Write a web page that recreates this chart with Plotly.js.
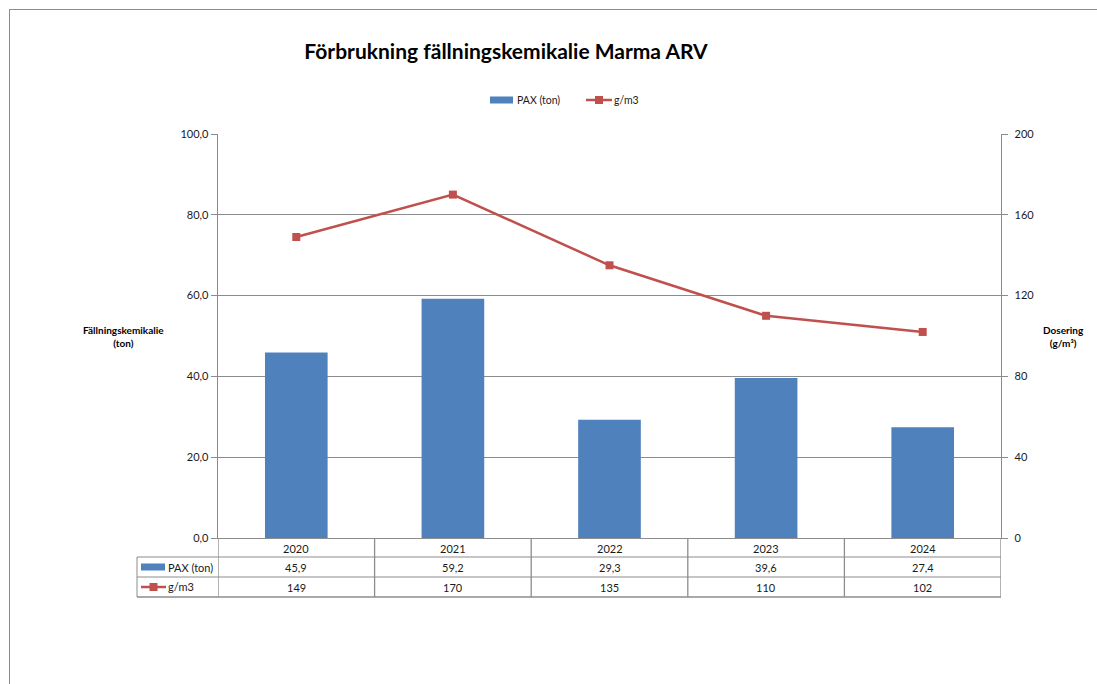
<!DOCTYPE html>
<html>
<head>
<meta charset="utf-8">
<script src="https://cdn.plot.ly/plotly-3.0.1.min.js"></script>
<style>
html,body{margin:0;padding:0;background:#fff;}
#chart{width:1097px;height:684px;}
#frame{position:absolute;left:9px;top:9px;width:1200px;height:800px;border-left:1px solid #8c8c8c;border-top:1px solid #8c8c8c;pointer-events:none;}
</style>
</head>
<body>
<div id="chart"></div>
<div id="frame"></div>
<script>
const years = ['2020', '2021', '2022', '2023', '2024'];
const paxTon = [45.9, 59.2, 29.3, 39.6, 27.4];
const gPerM3 = [149, 170, 135, 110, 102];
const seriesNames = ['PAX (ton)', 'g/m3'];
const titleText = 'Förbrukning fällningskemikalie Marma ARV';
const leftTitle = 'Fällningskemikalie<br>(ton)';
const rightTitle = 'Dosering<br>(g/m³)';

const BLUE = '#4F81BD', RED = '#C0504D', GRID = '#8c8c8c', TXT = '#1a1a1a';
const FONT = 'Lato, "Open Sans", sans-serif';

const W = 1097, H = 684;
const L = 218, R = 1001, T = 134, B = 538;
const plotH = B - T;
const py = p => (B - p) / plotH;            // pixel y -> paper y
const px = p => (p - L) / (R - L);          // pixel x -> paper x

const fmt1 = v => v.toFixed(1).replace('.', ',');

const rowY = [538, 557, 577, 597];
const shapes = [];
const annotations = [];
// horizontal table lines
shapes.push({type:'line', xref:'paper', yref:'paper', x0:px(137), x1:1, y0:py(rowY[1]), y1:py(rowY[1]), line:{color:GRID,width:1}});
shapes.push({type:'line', xref:'paper', yref:'paper', x0:px(137), x1:1, y0:py(rowY[2]), y1:py(rowY[2]), line:{color:GRID,width:1}});
shapes.push({type:'line', xref:'paper', yref:'paper', x0:px(137), x1:1, y0:py(rowY[3]), y1:py(rowY[3]), line:{color:GRID,width:1.5}});
// left vertical line of label column
shapes.push({type:'line', xref:'paper', yref:'paper', x0:px(137), x1:px(137), y0:py(rowY[1]), y1:py(rowY[3]), line:{color:GRID,width:1}});
// vertical separators at category boundaries
for (let i = 0; i <= years.length; i++) {
  shapes.push({type:'line', xref:'x', yref:'paper', x0:i-0.5, x1:i-0.5, y0:py(rowY[0]), y1:py(rowY[3]), line:{color:GRID,width:1.3}});
}
// legend keys in table
function barKey(x0, x1, yc) {
  shapes.push({type:'rect', xref:'paper', yref:'paper', x0:px(x0), x1:px(x1), y0:py(yc+3.5), y1:py(yc-3.5), fillcolor:BLUE, line:{width:0}});
}
function lineKey(x0, x1, yc) {
  const m = (x0 + x1) / 2;
  shapes.push({type:'line', xref:'paper', yref:'paper', x0:px(x0), x1:px(x1), y0:py(yc), y1:py(yc), line:{color:RED,width:2.5}});
  shapes.push({type:'rect', xref:'paper', yref:'paper', x0:px(m-4), x1:px(m+4), y0:py(yc+4), y1:py(yc-4), fillcolor:RED, line:{width:0}});
}
barKey(141, 165, 567);
lineKey(141, 166, 587);
annotations.push({xref:'paper', yref:'paper', x:px(166), y:py(567), text:seriesNames[0], showarrow:false, xanchor:'left', yanchor:'middle', font:{family:FONT,size:11,color:TXT}});
annotations.push({xref:'paper', yref:'paper', x:px(166), y:py(586), text:seriesNames[1], showarrow:false, xanchor:'left', yanchor:'middle', font:{family:FONT,size:11,color:TXT}});

// top legend
barKey(490, 513, 100);
lineKey(586, 612, 100);
annotations.push({xref:'paper', yref:'paper', x:px(515), y:py(100), text:seriesNames[0], showarrow:false, xanchor:'left', yanchor:'middle', font:{family:FONT,size:10.5,color:TXT}});
annotations.push({xref:'paper', yref:'paper', x:px(612), y:py(100), text:seriesNames[1], showarrow:false, xanchor:'left', yanchor:'middle', font:{family:FONT,size:10.5,color:TXT}});

years.forEach((yr, i) => {
  annotations.push({xref:'x', yref:'paper', x:i, y:py(548), text:yr, showarrow:false, yanchor:'middle', font:{family:FONT,size:11,color:TXT}});
  annotations.push({xref:'x', yref:'paper', x:i, y:py(567), text:fmt1(paxTon[i]), showarrow:false, yanchor:'middle', font:{family:FONT,size:11,color:TXT}});
  annotations.push({xref:'x', yref:'paper', x:i, y:py(587), text:String(gPerM3[i]), showarrow:false, yanchor:'middle', font:{family:FONT,size:11,color:TXT}});
});

annotations.push({xref:'paper', yref:'paper', x:px(123), y:py(336), text:'<b>'+leftTitle.replace('<br>','</b><br><b>')+'</b>', showarrow:false, xanchor:'center', yanchor:'middle', font:{family:FONT,size:10,color:'#000'}});
annotations.push({xref:'paper', yref:'paper', x:px(1063), y:py(336), text:'<b>'+rightTitle.replace('<br>','</b><br><b>')+'</b>', showarrow:false, xanchor:'center', yanchor:'middle', font:{family:FONT,size:10,color:'#000'}});

const data = [
  {type:'bar', name:seriesNames[0], x:years, y:paxTon, marker:{color:BLUE}, yaxis:'y', showlegend:false},
  {type:'scatter', mode:'lines+markers', name:seriesNames[1], x:years, y:gPerM3, yaxis:'y2', showlegend:false,
   line:{color:RED,width:2.5}, marker:{symbol:'square', size:8, color:RED}}
];

const layout = {
  width: W, height: H,
  margin: {l:L, r:W-R, t:T, b:H-B, pad:0},
  paper_bgcolor:'rgba(0,0,0,0)', plot_bgcolor:'#fff',
  font:{family:FONT, size:11, color:TXT},
  separators: ',.',
  bargap: 0.6,
  showlegend: false,
  title: {text: titleText, x: 506/W, xanchor:'center', y: 1 - 52/H, yanchor:'middle', font:{family:FONT, size:21, color:'#000', weight:'bold'}},
  xaxis: {type:'category', showticklabels:false, ticks:'', showgrid:false, showline:true, linecolor:GRID, linewidth:1, range:[-0.5, years.length-0.5], fixedrange:true},
  yaxis: {range:[0,100], dtick:20, tickformat:'.1f', showgrid:true, gridcolor:GRID, gridwidth:1, showline:true, linecolor:GRID, linewidth:1.3, ticks:'outside', ticklen:6, tickcolor:GRID, zeroline:false, tickfont:{family:FONT,size:11,color:TXT}},
  yaxis2: {range:[0,200], dtick:40, overlaying:'y', side:'right', showgrid:false, showline:true, linecolor:GRID, linewidth:1.3, ticks:'outside', ticklen:6, tickcolor:GRID, zeroline:false, ticklabelstandoff:4, tickfont:{family:FONT,size:11,color:TXT}},
  shapes: shapes,
  annotations: annotations
};

Plotly.newPlot('chart', data, layout, {displayModeBar:false, staticPlot:true});
</script>
</body>
</html>
